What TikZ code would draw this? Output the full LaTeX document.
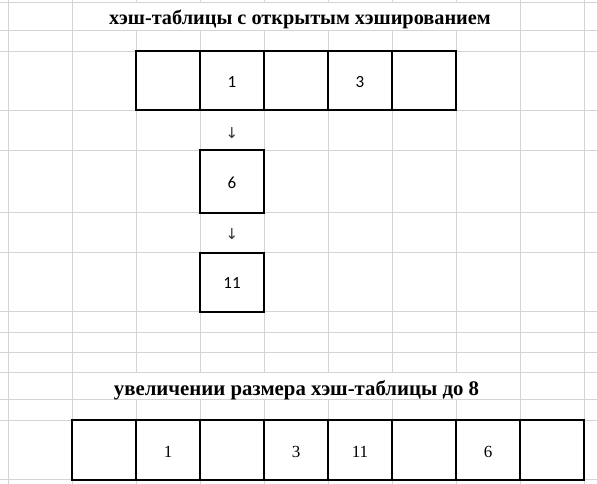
\documentclass[tikz,border=0pt]{standalone}
\usepackage{fontspec}
\setmainfont{Liberation Serif}
\newfontfamily\califont{Carlito}
\newfontfamily\arrowfont{DejaVu Sans}
\definecolor{gridgray}{RGB}{212,212,212}
\begin{document}
\begin{tikzpicture}[x=1pt,y=-1pt,
  gridline/.style={draw=gridgray, line width=1pt},
  cellbox/.style={draw=black, line width=2pt, minimum width=64pt, minimum height=#1, inner sep=0pt, outer sep=0pt},
  topnum/.style={font=\califont\fontsize{17}{20}\selectfont, anchor=base, inner sep=0pt},
  botnum/.style={font=\fontsize{17}{20}\selectfont, anchor=base, inner sep=0pt},
  titletext/.style={font=\bfseries\fontsize{#1}{24}\selectfont, anchor=base, inner sep=0pt},
  downsign/.style={font=\arrowfont\fontsize{15}{18}\selectfont, text=black!80, inner sep=0pt}]
\useasboundingbox (0,0) rectangle (597,484);
\fill[white] (0,0) rectangle (597,484);
% horizontal grid lines
\foreach \yy in {3,30.5,51.5,110.5,150.5,212.5,252.5,311.5,332,352,372,399,420,479.5}
  \draw[gridline] (0,\yy) -- (597,\yy);
% vertical grid lines
\foreach \xx in {8.5,72.5,520.5,584.5}
  \draw[gridline] (\xx,0) -- (\xx,484);
\foreach \xx in {136.5,200.5,264.5,328.5,392.5,456.5}{
  \draw[gridline] (\xx,0) -- (\xx,3);
  \draw[gridline] (\xx,30.5) -- (\xx,372);
  \draw[gridline] (\xx,399) -- (\xx,484);
}
% titles
\node[titletext=20.3] (title1) at (300,25) {хэш-таблицы с открытым хэшированием};
\node[titletext=20.8] (title2) at (296.5,395) {увеличении размера хэш-таблицы до 8};
% top table
\foreach \i/\xx in {0/168,1/232,2/296,3/360,4/424}
  \node[cellbox=59pt] (a\i) at (\xx,81) {};
\node[topnum] (a1t) at (232,88) {1};
\node[topnum] (a3t) at (360,88) {3};
% chain
\node[downsign] (d1) at (232,133.5) {↓};
\node[cellbox=62pt] (c6) at (232,181.5) {};
\node[topnum] (c6t) at (232,189) {6};
\node[downsign] (d2) at (232,234.5) {↓};
\node[cellbox=59pt] (c11) at (232,282) {};
\node[topnum] (c11t) at (232,288) {11};
% bottom table
\foreach \i/\xx in {0/104,1/168,2/232,3/296,4/360,5/424,6/488,7/552}
  \node[cellbox=59.5pt] (b\i) at (\xx,449.75) {};
\node[botnum] (b1t) at (168,457) {1};
\node[botnum] (b3t) at (296,457) {3};
\node[botnum] (b4t) at (360,457) {11};
\node[botnum] (b6t) at (488,457) {6};
\end{tikzpicture}
\end{document}
